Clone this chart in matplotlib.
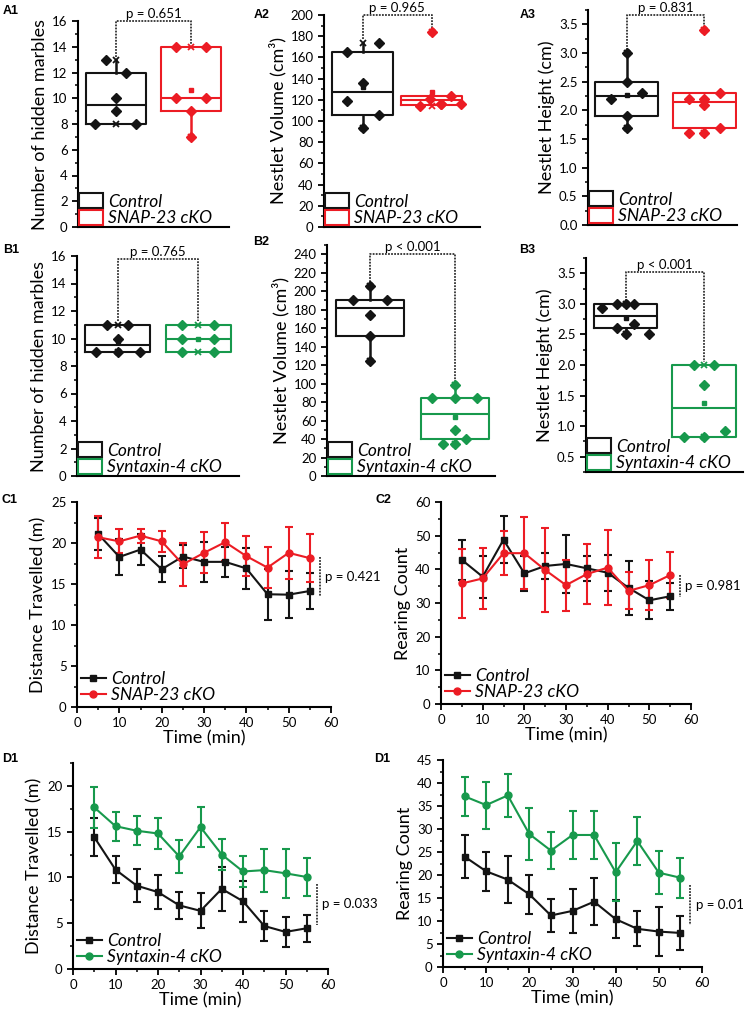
import matplotlib
matplotlib.use('Agg')
import matplotlib.pyplot as plt
from matplotlib.patches import Patch
from matplotlib.lines import Line2D
from matplotlib.ticker import MultipleLocator
import numpy as np

plt.rcParams['font.family'] = ['Lato', 'DejaVu Sans']
plt.rcParams['axes.linewidth'] = 1.5
plt.rcParams['xtick.major.width'] = 1.3
plt.rcParams['ytick.major.width'] = 1.3
plt.rcParams['xtick.minor.width'] = 1.1
plt.rcParams['ytick.minor.width'] = 1.1
plt.rcParams['xtick.major.size'] = 4
plt.rcParams['ytick.major.size'] = 4
plt.rcParams['xtick.minor.size'] = 2.5
plt.rcParams['ytick.minor.size'] = 2.5
plt.rcParams['xtick.labelsize'] = 9.5
plt.rcParams['ytick.labelsize'] = 9.5

BLACK = '#141414'
RED = '#ec1c24'
GREEN = '#17994c'

"""Box plot data (A1-B3): individual animals, jitter of each point, box stats"""
# box stats: q1, median, q3, whisker low, whisker high
a1_ctrl = [13, 12, 10, 9, 8, 8]
a1_ctrl_dx = [-0.13, 0.13, 0, 0, -0.27, 0.27]
a1_ctrl_box = [8, 9.5, 12, 8, 13]
a1_snap = [14, 14, 10, 10, 9, 7]
a1_snap_dx = [-0.2, 0.2, -0.2, 0.2, 0, 0]
a1_snap_box = [9, 10, 14, 7, 14]

a2_ctrl = [174, 165, 136, 119, 106, 93]
a2_ctrl_dx = [0.23, -0.22, 0, -0.22, 0.23, 0]
a2_ctrl_box = [106, 127.5, 165.5, 93, 174]
a2_snap = [184, 124, 121, 116, 116, 116, 114]
a2_snap_dx = [0, 0.28, -0.03, 0.13, 0.13, 0.43, -0.17]
a2_snap_box = [115, 119.5, 124, 115, 124]

a3_ctrl = [3.0, 2.5, 2.3, 2.2, 1.9, 1.7]
a3_ctrl_dx = [0, 0, 0.19, -0.2, 0, 0]
a3_ctrl_box = [1.9, 2.25, 2.5, 1.7, 3.0]
a3_snap = [3.4, 2.3, 2.2, 2.2, 2.1, 1.7, 1.6, 1.6]
a3_snap_dx = [0, 0.2, -0.2, 0, 0, 0.2, -0.2, 0]
a3_snap_box = [1.7, 2.15, 2.3, 1.6, 2.3]

b1_ctrl = [11, 11, 10, 9, 9, 9]
b1_ctrl_dx = [-0.14, 0.13, 0, -0.27, 0, 0.27]
b1_ctrl_box = [9, 9.5, 11, 9, 11]
b1_stx = [11, 11, 10, 10, 9, 9]
b1_stx_dx = [-0.2, 0.2, -0.2, 0.2, -0.2, 0.2]
b1_stx_box = [9, 10, 11, 9, 11]

b2_ctrl = [206, 191, 190, 174, 151, 125]
b2_ctrl_dx = [0, -0.2, 0.2, 0, 0, 0]
b2_ctrl_box = [151, 182, 191, 125, 206]
b2_stx = [99, 84, 84, 84, 50, 40, 35, 35]
b2_stx_dx = [0, -0.27, 0, 0.26, 0, 0.13, -0.14, 0]
b2_stx_box = [40, 67, 84, 35, 99]

b3_ctrl = [3.0, 3.0, 3.0, 2.93, 2.67, 2.6, 2.5, 2.5]
b3_ctrl_dx = [-0.11, 0, 0.1, -0.3, 0.1, -0.11, 0, 0.3]
b3_ctrl_box = [2.6, 2.8, 3.0, 2.5, 3.0]
b3_stx = [2.0, 2.0, 1.67, 0.92, 0.83, 0.83]
b3_stx_dx = [-0.13, 0.13, 0, 0.27, -0.26, 0]
b3_stx_box = [0.83, 1.29, 2.0, 0.83, 2.0]

box_pvals = ['p = 0.651', 'p = 0.965', 'p = 0.831', 'p = 0.765', 'p < 0.001', 'p < 0.001']
box_plevels = [16, 200, 3.67, 15.8, 240, 3.52]

"""Open field time courses (C1-D2): mean and SEM every 5 min"""
time_min = [5, 10, 15, 20, 25, 30, 35, 40, 45, 50, 55]

c1_ctrl = [21.1, 18.3, 19.2, 16.8, 18.35, 17.7, 17.7, 16.9, 13.75, 13.7, 14.15]
c1_ctrl_err = [2.0, 2.2, 1.9, 1.6, 1.45, 2.4, 1.85, 2.5, 3.1, 2.9, 2.15]
c1_snap = [20.7, 20.2, 20.9, 20.2, 17.4, 18.8, 20.1, 18.4, 17.0, 18.8, 18.15]
c1_snap_err = [2.55, 1.45, 0.85, 1.25, 2.6, 2.5, 2.35, 2.45, 2.5, 3.2, 2.9]

c2_ctrl = [42.8, 37.8, 48.8, 38.8, 41.0, 41.6, 40.3, 39.0, 34.5, 30.8, 32.0]
c2_ctrl_err = [6.0, 6.3, 7.0, 5.3, 3.8, 8.5, 3.8, 5.3, 8.1, 5.7, 4.0]
c2_snap = [35.8, 37.3, 44.8, 44.8, 39.8, 35.3, 38.6, 40.5, 33.6, 35.3, 38.3]
c2_snap_err = [10.2, 9.0, 6.5, 10.7, 12.6, 7.6, 9.0, 11.1, 5.5, 7.4, 6.9]

d1_ctrl = [14.4, 10.85, 9.1, 8.4, 6.95, 6.35, 8.75, 7.4, 4.7, 4.05, 4.45]
d1_ctrl_err = [2.05, 1.5, 1.8, 1.85, 1.45, 1.9, 2.4, 2.25, 1.6, 1.6, 1.45]
d1_stx = [17.65, 15.6, 15.1, 14.8, 12.3, 15.5, 12.5, 10.65, 10.8, 10.45, 10.05]
d1_stx_err = [2.25, 1.6, 1.6, 1.65, 1.8, 2.2, 1.65, 1.7, 2.35, 2.65, 2.05]

d2_ctrl = [24.0, 20.8, 19.0, 15.8, 11.2, 12.2, 14.2, 10.4, 8.3, 7.7, 7.4]
d2_ctrl_err = [4.6, 4.3, 5.1, 4.3, 3.5, 4.7, 5.1, 4.2, 3.8, 5.4, 3.6]
d2_stx = [37.1, 35.2, 37.3, 28.9, 25.3, 28.7, 28.7, 20.6, 27.4, 20.5, 19.4]
d2_stx_err = [4.3, 5.1, 4.6, 5.6, 4.1, 5.2, 5.2, 6.3, 5.2, 4.7, 4.4]

line_pvals = ['p = 0.421', 'p = 0.981', 'p = 0.033', 'p = 0.01']
line_pspan = [(18.3, 13.5), (38.3, 31.8), (9.3, 4.8), (17.9, 9.2)]

LEG_FONT = dict(style='italic', size=12.5)
DOTS = (0, (1, 0.7))


def px_axes(fig, x0, y0, x1, y1):
    # axes from pixel box (left, top, right, bottom) of the 747x1010 figure
    return fig.add_axes([x0 / 747, 1 - y1 / 1010, (x1 - x0) / 747, (y1 - y0) / 1010])


def box_group(ax, pos, vals, dx, stats, color, width):
    q1, med, q3, lo, hi = stats
    ax.bxp([dict(med=med, q1=q1, q3=q3, whislo=lo, whishi=hi, fliers=[])],
           positions=[pos], widths=width, showcaps=False, showfliers=False,
           boxprops=dict(color=color, lw=1.5),
           medianprops=dict(color=color, lw=1.5),
           whiskerprops=dict(color=color, lw=1.8))
    vals = np.array(vals)
    ax.plot(pos + np.array(dx), vals, 'D', color=color, ms=5, zorder=4, clip_on=False)
    ax.plot(pos, vals.mean(), 's', color=color, ms=3, zorder=4)
    ax.plot([pos, pos], [vals.min(), vals.max()], 'x', color=color, ms=4, mew=1.3, zorder=4)


def box_panel(ax, grp1, grp2, color2, label2, ylabel, ylim, major, minor, xlim, width, pval, plevel):
    box_group(ax, 1, *grp1, BLACK, width)
    box_group(ax, 2, *grp2, color2, width)
    ax.set_xlim(*xlim)
    ax.set_ylim(*ylim)
    ax.set_xticks([])
    ax.yaxis.set_major_locator(MultipleLocator(major))
    ax.yaxis.set_minor_locator(MultipleLocator(minor))
    ax.spines['top'].set_visible(False)
    ax.spines['right'].set_visible(False)
    ax.set_ylabel(ylabel, fontsize=13, labelpad=3)
    # significance bracket
    gap = 0.015 * (ylim[1] - ylim[0])
    top1 = max(grp1[0]) + gap
    top2 = max(grp2[0]) + gap
    ax.plot([1, 1, 2, 2], [top1, plevel, plevel, top2], ls=DOTS, lw=1.3,
            color='#333333', clip_on=False, zorder=2)
    ax.text(1.5, plevel + 0.004 * (ylim[1] - ylim[0]), pval, ha='center', va='bottom', fontsize=9.5)
    handles = [Patch(facecolor='none', edgecolor=BLACK, lw=1.5),
               Patch(facecolor='none', edgecolor=color2, lw=1.5)]
    ax.legend(handles, ['Control', label2], loc='lower left', prop=LEG_FONT, frameon=False,
              handlelength=1.4, handleheight=0.95, labelspacing=0.0, handletextpad=0.3,
              borderpad=0.0, borderaxespad=0.05)


def line_panel(ax, ctrl, ctrl_err, ko, ko_err, color2, label2, ylabel, ylim, major, minor, pval, pspan):
    ax.errorbar(time_min, ctrl, yerr=ctrl_err, color=BLACK, marker='s', ms=5, lw=1.5,
                elinewidth=1.5, capsize=3, capthick=1.5, label='Control')
    ax.errorbar(time_min, ko, yerr=ko_err, color=color2, marker='o', ms=5, lw=1.5,
                elinewidth=1.5, capsize=3, capthick=1.5, label=label2)
    ax.set_xlim(0, 60)
    ax.set_ylim(*ylim)
    ax.xaxis.set_major_locator(MultipleLocator(10))
    ax.xaxis.set_minor_locator(MultipleLocator(5))
    ax.yaxis.set_major_locator(MultipleLocator(major))
    ax.yaxis.set_minor_locator(MultipleLocator(minor))
    ax.spines['top'].set_visible(False)
    ax.spines['right'].set_visible(False)
    ax.set_ylabel(ylabel, fontsize=13, labelpad=3)
    ax.set_xlabel('Time (min)', fontsize=13, labelpad=1)
    ax.plot([57.3, 57.3], pspan, ls=DOTS, lw=1.3, color='#333333', clip_on=False)
    ax.text(58.6, np.mean(pspan), pval, ha='left', va='center', fontsize=9.5, clip_on=False)
    handles = [Line2D([], [], color=BLACK, marker='s', ms=5, lw=1.5),
               Line2D([], [], color=color2, marker='o', ms=5, lw=1.5)]
    ax.legend(handles, ['Control', label2], loc='lower left', prop=LEG_FONT, frameon=False,
              handlelength=1.4, labelspacing=0.0, handletextpad=0.3,
              borderpad=0.0, borderaxespad=0.25)


fig = plt.figure(figsize=(7.47, 10.10), dpi=100)

"""Row A: SNAP-23 cKO"""
ax = px_axes(fig, 78, 21, 229, 227)
box_panel(ax, (a1_ctrl, a1_ctrl_dx, a1_ctrl_box), (a1_snap, a1_snap_dx, a1_snap_box), RED,
          'SNAP-23 cKO', 'Number of hidden marbles', (0, 16), 2, 1, (0.5, 2.5), 0.8,
          box_pvals[0], box_plevels[0])
ax = px_axes(fig, 324, 15, 480, 227)
box_panel(ax, (a2_ctrl, a2_ctrl_dx, a2_ctrl_box), (a2_snap, a2_snap_dx, a2_snap_box), RED,
          'SNAP-23 cKO', 'Nestlet Volume (cm³)', (0, 200), 20, 10, (0.44, 2.7), 0.88,
          box_pvals[1], box_plevels[1])
ax = px_axes(fig, 588, 10, 737, 225)
box_panel(ax, (a3_ctrl, a3_ctrl_dx, a3_ctrl_box), (a3_snap, a3_snap_dx, a3_snap_box), RED,
          'SNAP-23 cKO', 'Nestlet Height (cm)', (0, 3.75), 0.5, 0.25, (0.5, 2.42), 0.81,
          box_pvals[2], box_plevels[2])

"""Row B: Syntaxin-4 cKO"""
ax = px_axes(fig, 77, 256, 239, 476)
box_panel(ax, (b1_ctrl, b1_ctrl_dx, b1_ctrl_box), (b1_stx, b1_stx_dx, b1_stx_box), GREEN,
          'Syntaxin-4 cKO', 'Number of hidden marbles', (0, 16), 2, 1, (0.49, 2.51), 0.81,
          box_pvals[3], box_plevels[3])
ax = px_axes(fig, 327, 245, 495, 476)
box_panel(ax, (b2_ctrl, b2_ctrl_dx, b2_ctrl_box), (b2_stx, b2_stx_dx, b2_stx_box), GREEN,
          'Syntaxin-4 cKO', 'Nestlet Volume (cm³)', (0, 250), 20, 10, (0.49, 2.47), 0.8,
          box_pvals[4], box_plevels[4])
ax = px_axes(fig, 586, 258, 743, 472)
box_panel(ax, (b3_ctrl, b3_ctrl_dx, b3_ctrl_box), (b3_stx, b3_stx_dx, b3_stx_box), GREEN,
          'Syntaxin-4 cKO', 'Nestlet Height (cm)', (0.25, 3.75), 0.5, 0.25, (0.49, 2.5), 0.81,
          box_pvals[5], box_plevels[5])

"""Rows C and D: open field"""
ax = px_axes(fig, 77, 502, 331, 707)
line_panel(ax, c1_ctrl, c1_ctrl_err, c1_snap, c1_snap_err, RED, 'SNAP-23 cKO',
           'Distance Travelled (m)', (0, 25), 5, 2.5, line_pvals[0], line_pspan[0])
ax = px_axes(fig, 441, 502, 691, 704)
line_panel(ax, c2_ctrl, c2_ctrl_err, c2_snap, c2_snap_err, RED, 'SNAP-23 cKO',
           'Rearing Count', (0, 60), 10, 5, line_pvals[1], line_pspan[1])
ax = px_axes(fig, 73, 763, 328, 969)
line_panel(ax, d1_ctrl, d1_ctrl_err, d1_stx, d1_stx_err, GREEN, 'Syntaxin-4 cKO',
           'Distance Travelled (m)', (0, 22.5), 5, 2.5, line_pvals[2], line_pspan[2])
ax = px_axes(fig, 443, 760, 702, 967)
line_panel(ax, d2_ctrl, d2_ctrl_err, d2_stx, d2_stx_err, GREEN, 'Syntaxin-4 cKO',
           'Rearing Count', (0, 45), 5, 2.5, line_pvals[3], line_pspan[3])

"""Panel letters"""
for lab, x, y in [('A1', 3, 11), ('A2', 254, 15), ('A3', 520, 15),
                  ('B1', 3, 250), ('B2', 253, 242), ('B3', 519, 250),
                  ('C1', 2, 500), ('C2', 375, 500), ('D1', 2, 759), ('D1', 374, 759)]:
    fig.text(x / 747, 1 - y / 1010, lab, fontsize=9, fontweight='bold',
             family='Liberation Sans', ha='left', va='center')

fig.savefig('out.png', dpi=100)
